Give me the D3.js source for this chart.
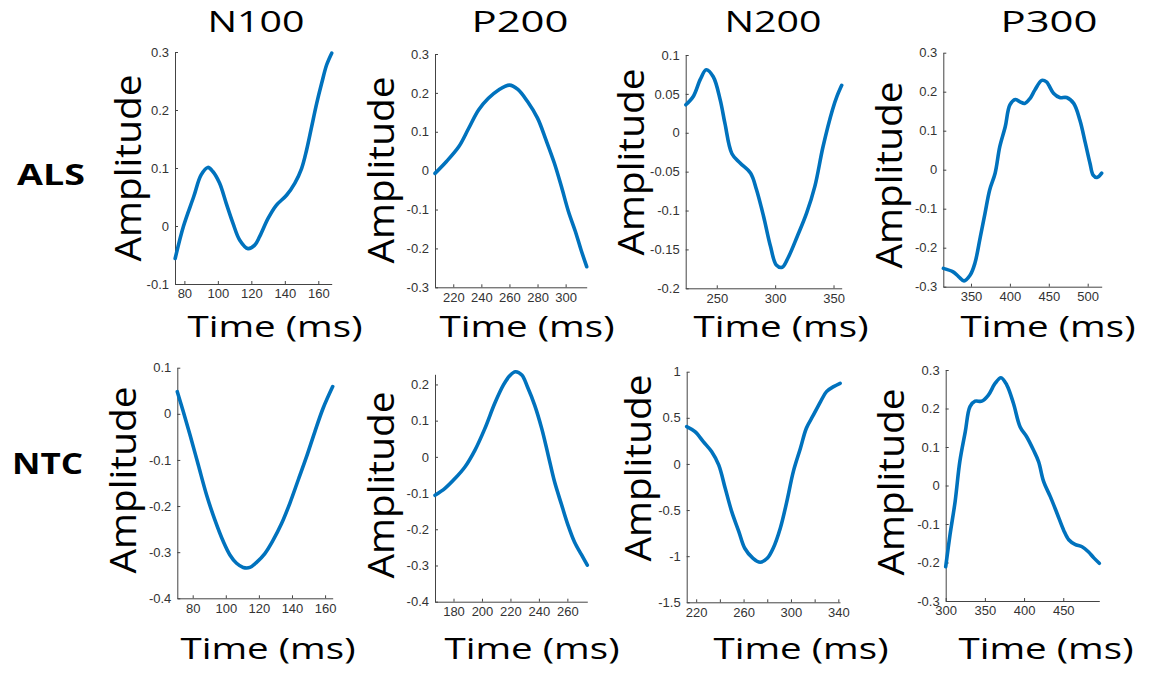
<!DOCTYPE html>
<html>
<head>
<meta charset="utf-8">
<script src="https://cdn.jsdelivr.net/npm/d3@7/dist/d3.min.js"></script>
<style>
  body { margin: 0; background: #fff; }
  svg { display: block; }
</style>
</head>
<body>
<svg id="chart" width="1150" height="675"></svg>
<script>
// column / row names
var components = ["N100", "P200", "N200", "P300"];
var groups = ["ALS", "NTC"];

// ALS averaged waveforms (time in ms, amplitude)
var alsN100Time = [74.5, 79.5, 85.5, 90, 94, 97, 101, 105, 109, 113, 118, 122, 125, 130, 135, 141, 146, 150, 153, 156, 159, 162, 165, 168];
var alsN100Amp = [-0.056, 0.0, 0.05, 0.088, 0.101, 0.094, 0.074, 0.039, 0.005, -0.024, -0.039, -0.033, -0.018, 0.013, 0.036, 0.053, 0.074, 0.099, 0.131, 0.171, 0.211, 0.246, 0.278, 0.298];
var alsP200Time = [207, 215, 224, 231, 238, 245, 252, 260, 266, 273, 280, 286, 292, 297, 302, 307, 311, 315];
var alsP200Amp = [-0.007, 0.023, 0.062, 0.109, 0.156, 0.186, 0.207, 0.22, 0.209, 0.177, 0.135, 0.079, 0.019, -0.041, -0.105, -0.157, -0.204, -0.247];
var alsN200Time = [223.5, 230, 236, 241, 247, 253, 257, 263, 270, 279, 284, 290, 296, 301, 306, 311, 319, 327, 334, 341, 349, 353, 357];
var alsN200Amp = [0.036, 0.047, 0.069, 0.081, 0.072, 0.042, 0.012, -0.027, -0.039, -0.052, -0.073, -0.107, -0.146, -0.170, -0.173, -0.161, -0.133, -0.103, -0.069, -0.018, 0.029, 0.047, 0.061];
var alsP300Time = [314.5, 327, 334, 341, 349, 355, 362, 368, 374, 381, 387, 394, 400, 407, 413, 419, 426, 432, 441, 447, 456, 464, 473, 482, 490, 497, 503, 507, 512, 518];
var alsP300Amp = [-0.253, -0.262, -0.274, -0.285, -0.27, -0.24, -0.172, -0.112, -0.052, -0.009, 0.059, 0.11, 0.166, 0.18, 0.174, 0.17, 0.183, 0.204, 0.229, 0.225, 0.196, 0.185, 0.185, 0.17, 0.127, 0.068, 0.016, -0.014, -0.02, -0.009];

// NTC averaged waveforms
var ntcN100Time = [70.7, 74.3, 78.4, 83.4, 88.4, 93.4, 98.5, 102.5, 106.5, 110.5, 114.6, 118.6, 123.6, 128.6, 133.7, 138.7, 143.7, 148.8, 153.8, 158.8, 164.6];
var ntcN100Amp = [0.048, 0.005, -0.046, -0.111, -0.176, -0.23, -0.277, -0.306, -0.324, -0.333, -0.333, -0.322, -0.303, -0.274, -0.238, -0.194, -0.144, -0.093, -0.039, 0.012, 0.059];
var ntcP200Time = [167, 174, 181, 188, 195, 202, 209, 215, 219.5, 223.5, 228, 232, 237, 242, 246.5, 251, 256, 260.5, 265, 270, 274];
var ntcP200Amp = [-0.106, -0.087, -0.06, -0.028, 0.018, 0.078, 0.148, 0.198, 0.224, 0.235, 0.226, 0.193, 0.143, 0.078, 0.005, -0.069, -0.133, -0.189, -0.235, -0.271, -0.299];
var ntcN200Time = [212, 219, 226, 233, 239, 244.5, 250, 256, 261, 268, 274, 280, 285, 291, 296.5, 302, 308, 313, 319, 325, 330, 336, 341.5];
var ntcN200Amp = [0.405, 0.35, 0.242, 0.134, -0.011, -0.264, -0.517, -0.733, -0.914, -1.023, -1.066, -1.023, -0.914, -0.697, -0.408, -0.083, 0.17, 0.387, 0.531, 0.676, 0.784, 0.838, 0.874];
var ntcP300Time = [300, 305.5, 312, 318, 325, 331, 337.5, 346, 354.5, 363, 370.5, 378, 386.5, 395, 403.5, 412, 418.5, 425, 433.5, 442, 450.5, 457, 465, 474, 482, 489, 496];
var ntcP300Amp = [-0.211, -0.128, -0.042, 0.062, 0.14, 0.205, 0.219, 0.219, 0.235, 0.265, 0.28, 0.261, 0.213, 0.152, 0.126, 0.092, 0.062, 0.01, -0.029, -0.072, -0.116, -0.141, -0.153, -0.159, -0.172, -0.188, -0.202];

// axis limits (axis tight)
var xDomains = [[74.4, 168], [207, 315], [223.4, 357], [314.4, 518], [70.7, 164.6], [167, 274], [212, 341.4], [300, 496]];
var yDomains = [[-0.1, 0.3], [-0.3, 0.3], [-0.2, 0.1], [-0.3, 0.3], [-0.4, 0.1], [-0.4, 0.228], [-1.5, 1], [-0.3, 0.3]];

// tick values
var xTicks = [[80, 100, 120, 140, 160], [220, 240, 260, 280, 300], [250, 300, 350], [350, 400, 450, 500],
              [80, 100, 120, 140, 160], [180, 200, 220, 240, 260], [220, 240, 260, 280, 300, 320, 340], [300, 350, 400, 450]];
var xTickLabels = [[80, 100, 120, 140, 160], [220, 240, 260, 280, 300], [250, 300, 350], [350, 400, 450, 500],
                   [80, 100, 120, 140, 160], [180, 200, 220, 240, 260], [220, 260, 300, 340], [300, 350, 400, 450]];
var yTicks = [[-0.1, 0, 0.1, 0.2, 0.3], [-0.3, -0.2, -0.1, 0, 0.1, 0.2, 0.3], [-0.2, -0.15, -0.1, -0.05, 0, 0.05, 0.1], [-0.3, -0.2, -0.1, 0, 0.1, 0.2, 0.3],
              [-0.4, -0.3, -0.2, -0.1, 0, 0.1], [-0.4, -0.3, -0.2, -0.1, 0, 0.1, 0.2], [-1.5, -1, -0.5, 0, 0.5, 1], [-0.3, -0.2, -0.1, 0, 0.1, 0.2, 0.3]];

var series = [
  [alsN100Time, alsN100Amp], [alsP200Time, alsP200Amp], [alsN200Time, alsN200Amp], [alsP300Time, alsP300Amp],
  [ntcN100Time, ntcN100Amp], [ntcP200Time, ntcP200Amp], [ntcN200Time, ntcN200Amp], [ntcP300Time, ntcP300Amp]
];

// panel boxes in page pixels + label placement
var panels = [
  {l: 175,   r: 331.7,  t: 52,    b: 284,   ax: 141, ay: 168, tx: 275,  ty: 337},
  {l: 435,   r: 586.7,  t: 54,    b: 287.3, ax: 394, ay: 170, tx: 527,  ty: 337},
  {l: 685.7, r: 841.7,  t: 55,    b: 288.3, ax: 644, ay: 162, tx: 781,  ty: 337},
  {l: 943.3, r: 1101.7, t: 52.7,  b: 286.7, ax: 902, ay: 175, tx: 1048, ty: 337},
  {l: 177.3, r: 332.7,  t: 367.7, b: 598.3, ax: 136, ay: 480, tx: 268,  ty: 659},
  {l: 435,   r: 587.3,  t: 374.3, b: 601.7, ax: 394, ay: 485, tx: 532,  ty: 659},
  {l: 686.7, r: 840,    t: 371.7, b: 602.3, ax: 651, ay: 468, tx: 801,  ty: 659},
  {l: 945.7, r: 1099.3, t: 370,   b: 601,   ax: 904, ay: 482, tx: 1046, ty: 659}
];
var titleX = [256, 520, 773, 1049];
var rowLabelPos = [{x: 17, y: 185, w: 68}, {x: 12, y: 474, w: 71}];

var svg = d3.select("#chart");
var lineColor = "#0072BD";
var axisColor = "#444";
var fontMain = "'Open Sans', 'Noto Sans', sans-serif";

function fmt(v) {
  return String(+v.toFixed(2));
}

panels.forEach(function(p, i) {
  var x = d3.scaleLinear().domain(xDomains[i]).range([p.l, p.r]);
  var y = d3.scaleLinear().domain(yDomains[i]).range([p.b, p.t]);
  var g = svg.append("g");

  // X axis, ticks inside
  var labelsX = xTickLabels[i];
  var xa = g.append("g")
    .attr("transform", "translate(0," + p.b + ")")
    .call(d3.axisBottom(x).tickValues(xTicks[i]).tickSize(-3).tickSizeOuter(0).tickPadding(5)
      .tickFormat(function(d) { return labelsX.indexOf(d) >= 0 ? fmt(d) : ""; }));

  // Y axis
  var ya = g.append("g")
    .attr("transform", "translate(" + p.l + ",0)")
    .call(d3.axisLeft(y).tickValues(yTicks[i]).tickSize(-3).tickSizeOuter(0).tickPadding(6)
      .tickFormat(fmt));

  [xa, ya].forEach(function(a) {
    a.select(".domain").attr("stroke", axisColor).attr("stroke-width", 1);
    a.selectAll(".tick line").attr("stroke", axisColor);
    a.selectAll(".tick text")
      .attr("fill", "#333")
      .style("font-family", "'Liberation Sans', Arial, sans-serif")
      .style("font-size", "13px");
  });

  // waveform
  var t = series[i][0], a = series[i][1];
  var pts = t.map(function(d, k) { return [d, a[k]]; });
  var line = d3.line()
    .x(function(d) { return x(d[0]); })
    .y(function(d) { return y(d[1]); })
    .curve(d3.curveCatmullRom.alpha(0.5));
  g.append("path")
    .datum(pts)
    .attr("d", line)
    .attr("fill", "none")
    .attr("stroke", lineColor)
    .attr("stroke-width", 3.6)
    .attr("stroke-linejoin", "round")
    .attr("stroke-linecap", "round");

  // axis titles
  g.append("text")
    .attr("transform", "translate(" + p.ax + "," + p.ay + ") rotate(-90)")
    .attr("text-anchor", "middle")
    .attr("textLength", 187)
    .attr("lengthAdjust", "spacingAndGlyphs")
    .style("font-family", fontMain)
    .style("font-size", "36px")
    .text("Amplitude");

  g.append("text")
    .attr("x", p.tx)
    .attr("y", p.ty)
    .attr("text-anchor", "middle")
    .attr("textLength", 175)
    .attr("lengthAdjust", "spacingAndGlyphs")
    .style("font-family", fontMain)
    .style("font-size", "29px")
    .text("Time (ms)");
});

// column titles
components.forEach(function(c, i) {
  svg.append("text")
    .attr("x", titleX[i])
    .attr("y", 32)
    .attr("text-anchor", "middle")
    .attr("textLength", 97)
    .attr("lengthAdjust", "spacingAndGlyphs")
    .style("font-family", fontMain)
    .style("font-size", "30px")
    .text(c);
});

// row labels
groups.forEach(function(gname, i) {
  svg.append("text")
    .attr("x", rowLabelPos[i].x)
    .attr("y", rowLabelPos[i].y)
    .attr("textLength", rowLabelPos[i].w)
    .attr("lengthAdjust", "spacingAndGlyphs")
    .style("font-family", fontMain)
    .style("font-weight", "bold")
    .style("font-size", "28px")
    .text(gname);
});
</script>
</body>
</html>
